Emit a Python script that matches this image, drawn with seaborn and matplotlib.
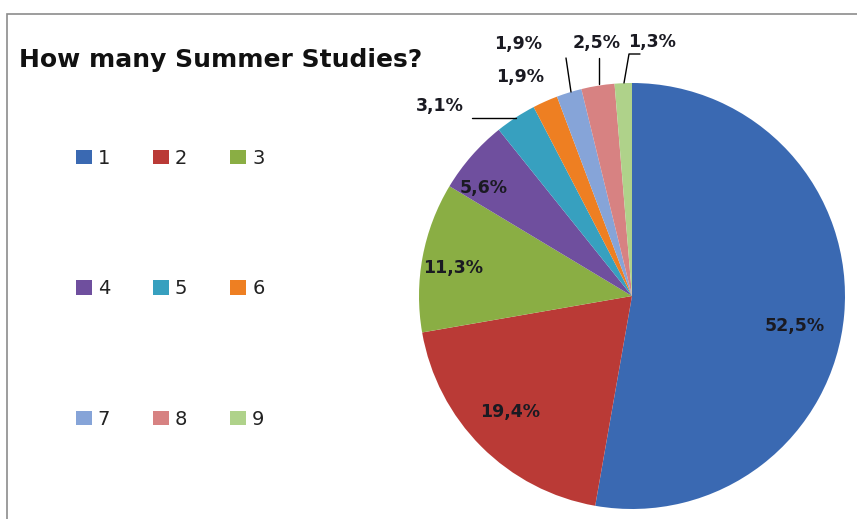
import matplotlib
matplotlib.use("Agg")
import matplotlib.pyplot as plt
import seaborn as sns
import numpy as np
from matplotlib.patches import Patch, Rectangle

sns.set_theme(style="white")
plt.rcParams['font.family'] = ['DejaVu Sans']

categories = ["1", "2", "3", "4", "5", "6", "7", "8", "9"]
values = [52.5, 19.4, 11.3, 5.6, 3.1, 1.9, 1.9, 2.5, 1.3]
value_labels = ["52,5%", "19,4%", "11,3%", "5,6%", "3,1%", "1,9%", "1,9%", "2,5%", "1,3%"]
colors = ["#3A69B2", "#BA3A36", "#8AAE44", "#6F4F9E", "#37A0BF",
          "#EE7F22", "#86A4D8", "#D78282", "#AFD28A"]
title = "How many Summer Studies?"

W, H = 857, 519
fig = plt.figure(figsize=(W / 100, H / 100), dpi=100)
fig.patch.set_facecolor("white")

# frame
fig.patches.append(Rectangle((7 / W, -0.1), 1.2, 1.1 - 14 / H, transform=fig.transFigure,
                             fill=False, edgecolor="#8c8c8c", linewidth=1.2))

cx, cy, r = 632, 296, 213
ax = fig.add_axes([(cx - r) / W, (H - cy - r) / H, 2 * r / W, 2 * r / H])
wedges, _ = ax.pie(values, colors=colors, startangle=90, counterclock=False,
                   radius=1, wedgeprops=dict(linewidth=0))
ax.set_xlim(-1, 1)
ax.set_ylim(-1, 1)
ax.set_aspect("equal")
ax.axis("off")

def px(p):
    return ((p[0] - cx) / r, (cy - p[1]) / r)

# label layout (pixel positions) and optional leader lines
label_pos = [(795, 326), (510, 412), (453, 268), (484, 188), (440, 106),
             (520, 77), (518, 44), (597, 43), (652, 42)]
leaders = {
    4: [(472, 118), (516, 118)],
    6: [(566, 58), (571, 92)],
    7: [(599, 58), (599, 84)],
    8: [(640, 54), (629, 54), (624, 83)],
}
for i, (lbl, pos) in enumerate(zip(value_labels, label_pos)):
    x, y = px(pos)
    ax.text(x, y, lbl, ha="center", va="center", fontsize=12.5, fontweight="bold",
            color="#1a1a22", clip_on=False)
    if i in leaders:
        pts = np.array([px(p) for p in leaders[i]])
        ax.plot(pts[:, 0], pts[:, 1], color="black", linewidth=1, clip_on=False)

fig.text(19 / W, 1 - 60 / H, title, ha="left", va="center", fontsize=18,
         fontweight="bold", color="#111111")

# legend laid out row by row (matplotlib fills columns first)
order = [0, 3, 6, 1, 4, 7, 2, 5, 8]
handles = [Patch(facecolor=colors[k], edgecolor="none") for k in order]
labels = [categories[k] for k in order]
leg = fig.legend(handles, labels, ncol=3, loc="upper left",
                 bbox_to_anchor=(58 / W, 1 - 131 / H), frameon=False,
                 fontsize=14, labelspacing=5.75, columnspacing=2.18,
                 handlelength=0.85, handleheight=0.75, handletextpad=0.3)
for t in leg.get_texts():
    t.set_color("#222222")

fig.savefig("out.png", dpi=100, facecolor="white")
